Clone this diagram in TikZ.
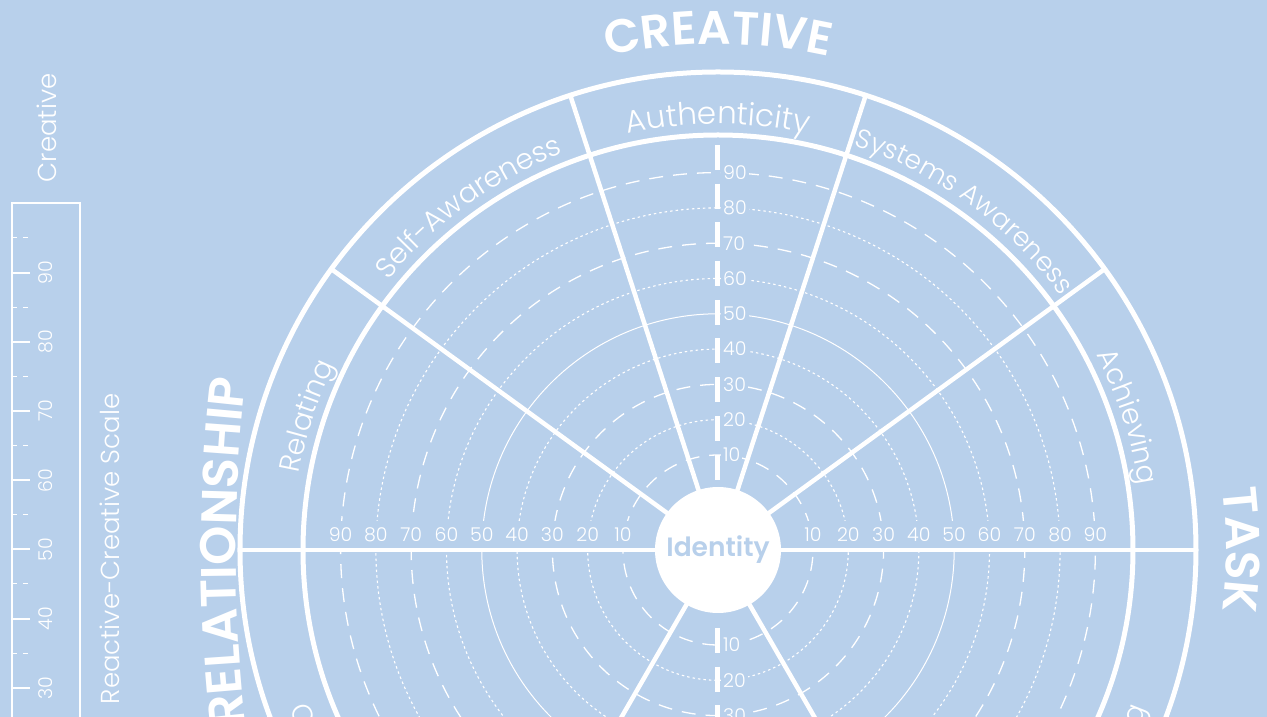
\documentclass[tikz,border=0pt]{standalone}
\usepackage{fontspec}
\setmainfont{Poppins}
\newfontfamily\lightf{Poppins Light}
\newfontfamily\semif{Poppins SemiBold}
\usetikzlibrary{decorations.text}
\definecolor{bg}{RGB}{184,208,235}
\begin{document}
\begin{tikzpicture}[x=1pt,y=1pt,
  dsh/.style={white, line width=1.3pt, dash pattern=on 14pt off 10pt},
  dts/.style={white, line width=1.1pt, dash pattern=on 2.5pt off 3pt},
  sld/.style={white, line width=1pt},
  bigring/.style={white, line width=5pt},
  sector/.style={white, line width=4.5pt},
  bar/.style={white, line width=5pt, dash pattern=on 25pt off 13.7pt},
  ringlab/.style={font=\lightf\fontsize{19}{20}\selectfont, text=white, fill=bg, inner sep=2pt},
  hlab/.style={ringlab, minimum height=27pt, inner ysep=0pt},
  bandtext/.style 2 args={decorate, decoration={text along path, text align=center, text color=white, text={|\lightf\fontsize{#1}{30}\selectfont|#2}}},
  bigtext/.style 2 args={decorate, decoration={text along path, text align=center, text color=white, text={|\semif\fontsize{#1}{50}\selectfont|#2}}},
  scalelab/.style={font=\lightf\fontsize{19}{20}\selectfont, text=white, inner sep=0pt, rotate=90},
  scaletitle/.style={font=\lightf\fontsize{26}{28}\selectfont, text=white, inner sep=0pt, rotate=90}]
\useasboundingbox (-718,-167) rectangle (549,550);
\clip (-718,-167) rectangle (549,550);
\fill[bg] (-718,-167) rectangle (549,550);

% rings
\foreach \n/\sty in {10/dsh,20/dts,30/dsh,40/dts,50/sld,60/dts,70/dsh,80/dts,90/dsh}
  \draw[\sty] (0,0) circle[radius={59.7+3.53*\n}];

% ring labels
\foreach \n in {10,20,...,90} {
  \node[hlab] (L\n) at ({-(59.7+3.53*\n)},15.5) {\n};
  \node[hlab] (R\n) at ({59.7+3.53*\n},15.5) {\n};
  \node[ringlab, anchor=west] (T\n) at (3,{59.7+3.53*\n}) {\n};
}
\foreach \n in {10,20,30}
  \node[ringlab, anchor=west] (B\n) at (3,{-(59.7+3.53*\n)}) {\n};

% vertical axis bars
\draw[bar] (0,405) -- (0,70);
\draw[bar] (0,-78) -- (0,-180);

% sector lines
\foreach \a in {0,36,72,108,144,180,240,300}
  \draw[sector] (0,0) -- (\a:478);

% band circles
\draw[bigring] (0,0) circle[radius=415];
\draw[bigring] (0,0) circle[radius=478];

% identity
\node[circle, fill=white, minimum size=126pt, inner sep=0pt, text=bg,
      font=\semif\fontsize{26.5}{28}\selectfont] (id) at (0,0) {Identity};

% band labels
\path[bandtext={31}{Authenticity}] (125:426) arc[start angle=125, end angle=55, radius=426];
\path[bandtext={26.5}{Systems Awareness}] (95:427) arc[start angle=95, end angle=13, radius=427];
\path[bandtext={28.5}{Self-Awareness}] (167:426) arc[start angle=167, end angle=85, radius=426];
\path[bandtext={28.5}{Relating}] (200:426) arc[start angle=200, end angle=124, radius=426];
\path[bandtext={28.5}{Achieving}] (56:426) arc[start angle=56, end angle=-20, radius=426];
\path[bandtext={28.5}{Complying}] (170:457) arc[start angle=170, end angle=250, radius=457];
\path[bandtext={28.5}{Controlling}] (290:457) arc[start angle=290, end angle=370, radius=457];

% big labels
\path[bigtext={47}{CREATIVE}] (130:506) arc[start angle=130, end angle=50, radius=506];
\path[bigtext={50}{RELATIONSHIP}] (1018,-2) ++(195:1500) arc[start angle=195, end angle=165, radius=1500];
\path[bigtext={48}{TASK}] (40:508) arc[start angle=40, end angle=-40, radius=508];

% scale bar
\draw[white, line width=2pt] (-706,-200) -- (-706,347) -- (-638,347) -- (-638,-200);
\foreach \v in {30,40,...,90} {
  \draw[white, line width=2pt] (-706,{346.6-(100-\v)*6.92}) -- (-688,{346.6-(100-\v)*6.92});
  \node[scalelab] (S\v) at (-672,{346.6-(100-\v)*6.92}) {\v};
}
\foreach \v in {25,35,...,95} {
  \draw[white, line width=1pt] (-705,{346.6-(100-\v)*6.92}) -- (-701,{346.6-(100-\v)*6.92});
  \draw[white, line width=1pt] (-695,{346.6-(100-\v)*6.92}) -- (-690,{346.6-(100-\v)*6.92});
}
\node[scaletitle] (creat) at (-671,422) {Creative};
\node[scaletitle] (rcs) at (-608,1) {Reactive-Creative Scale};
\end{tikzpicture}
\end{document}
